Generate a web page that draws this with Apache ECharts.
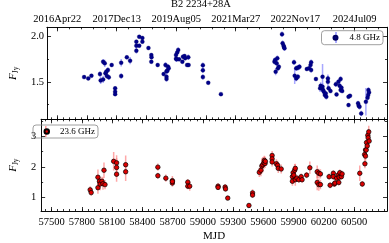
<!DOCTYPE html>
<html><head><meta charset="utf-8">
<script src="https://cdn.jsdelivr.net/npm/echarts@6/dist/echarts.min.js"></script>
<style>html,body{margin:0;padding:0;background:#fff}#c{width:389px;height:243px}</style>
</head><body><div id="c"></div>
<script>
// ---------- data: 4.8 GHz ----------
const mjd48 = [57771,57813,57845,57931,57938,57963,57963,57979,57986,57995,58001,58011,58020,58049,58084,58084,58084,58145,58145,58202,58235,58298,58298,58298,58327,58327,58359,58359,58420,58449,58449,58451,58513,58573,58592,58602,58602,58602,58611,58618,58624,58698,58698,58704,58710,58720,58729,58762,58768,58784,58790,58810,58822,58825,58969,58969,58969,59023,59151,59691,59697,59703,59713,59720,59726,59735,59767,59773,59783,59787,59792,59888,59895,59911,59911,59927,59927,59943,60017,60039,60055,60061,60061,60109,60151,60157,60166,60176,60176,60182,60189,60199,60208,60214,60230,60230,60237,60256,60310,60317,60336,60348,60358,60358,60367,60374,60438,60453,60438,60534,60540,60549,60566,60613,60630,60639,60645,60636];
const flux48 = [1.551,1.537,1.566,1.584,1.515,1.719,1.526,1.701,1.592,1.610,1.562,1.628,1.548,1.683,1.428,1.391,1.365,1.708,1.562,1.767,1.730,1.839,1.894,1.938,1.894,1.992,1.978,1.938,1.869,1.792,1.719,1.767,1.683,1.584,1.683,1.555,1.530,1.614,1.620,1.664,1.647,1.792,1.752,1.745,1.820,1.847,1.745,1.719,1.774,1.781,1.756,1.683,1.767,1.683,1.680,1.625,1.551,1.489,1.365,1.719,1.737,1.610,1.701,1.756,1.647,1.664,2.019,1.920,1.894,1.880,1.865,1.712,1.566,1.647,1.537,1.653,1.555,1.664,1.639,1.647,1.683,1.628,1.712,1.530,1.428,1.456,1.428,1.445,1.555,1.409,1.391,1.355,1.373,1.336,1.537,1.500,1.428,1.398,1.472,1.362,1.500,1.456,1.530,1.409,1.434,1.398,1.336,1.347,1.245,1.264,1.238,1.227,1.154,1.281,1.325,1.409,1.384,1.355];
const err48 = [0.015,0.012,0.015,0.03,0.04,0.03,0.04,0.04,0.04,0.03,0.03,0.03,0.03,0.02,0.02,0.02,0.02,0.04,0.03,0.02,0.04,0.03,0.03,0.02,0.02,0.02,0.02,0.02,0.015,0.02,0.02,0.02,0.02,0.02,0.03,0.03,0.03,0.03,0.03,0.03,0.03,0.03,0.03,0.03,0.03,0.03,0.02,0.02,0.02,0.02,0.02,0.02,0.03,0.02,0.03,0.03,0.03,0.02,0.015,0.03,0.03,0.04,0.03,0.03,0.03,0.03,0.03,0.03,0.03,0.03,0.03,0.03,0.09,0.03,0.03,0.03,0.03,0.03,0.02,0.02,0.03,0.03,0.03,0.02,0.04,0.04,0.04,0.04,0.14,0.03,0.03,0.03,0.03,0.03,0.03,0.08,0.03,0.02,0.03,0.02,0.03,0.03,0.03,0.03,0.03,0.02,0.02,0.02,0.02,0.03,0.03,0.03,0.03,0.15,0.03,0.03,0.03,0.03];

// ---------- data: 23.6 GHz ----------
const mjd236 = [57883,57893,57960,57960,57975,57982,58000,58010,58020,58030,58116,58145,58145,58145,58235,58235,58554,58554,58633,58698,58698,58698,58851,58851,58870,59151,59151,59221,59225,59247,59457,59493,59493,59560,59576,59585,59595,59605,59610,59617,59620,59687,59687,59687,59729,59742,59748,59777,59888,59895,59902,59911,59917,59888,59917,59933,59952,59975,59984,60029,60061,60134,60150,60166,60134,60150,60166,60252,60262,60294,60294,60304,60310,60326,60342,60352,60358,60374,60381,60348,60556,60581,60604,60607,60613,60613,60620,60623,60630,60636,60639,60645,60649];
const flux236 = [1.25,1.16,1.66,1.32,1.53,1.44,1.53,1.45,1.89,1.42,2.18,2.13,1.98,1.76,2.07,1.84,1.99,1.71,1.63,1.55,1.47,1.52,1.50,1.37,1.37,1.37,1.33,1.34,1.28,0.98,0.74,1.15,1.08,1.82,1.89,2.03,2.07,2.13,2.21,2.11,2.18,2.37,2.26,2.16,2.10,2.05,1.95,1.93,1.68,1.81,1.73,1.89,1.95,1.53,1.58,1.63,1.58,1.68,1.58,1.73,1.97,1.84,1.79,1.77,1.49,1.42,1.42,1.68,1.40,1.79,1.68,1.44,1.47,1.63,1.73,1.66,1.81,1.68,1.77,1.49,1.79,1.44,2.40,2.10,2.35,2.55,2.55,2.79,2.68,3.03,2.95,3.14,2.84];
const err236 = [0.12,0.10,0.25,0.20,0.15,0.20,0.15,0.20,0.25,0.15,0.30,0.25,0.30,0.25,0.30,0.30,0.12,0.10,0.12,0.15,0.12,0.10,0.10,0.10,0.15,0.10,0.08,0.10,0.08,0.06,0.08,0.12,0.10,0.15,0.20,0.25,0.25,0.20,0.15,0.15,0.15,0.15,0.15,0.15,0.15,0.15,0.15,0.15,0.15,0.15,0.15,0.20,0.15,0.15,0.20,0.10,0.10,0.10,0.10,0.10,0.20,0.20,0.15,0.15,0.25,0.20,0.15,0.10,0.10,0.10,0.10,0.10,0.10,0.10,0.10,0.10,0.10,0.10,0.10,0.10,0.25,0.10,0.15,0.15,0.15,0.15,0.15,0.15,0.15,0.15,0.15,0.20,0.15];

// ---------- ticks ----------
const mjdTicks = [57500,57800,58100,58400,58700,59000,59300,59600,59900,60200,60500];
const dateTickMjd = [57500,58100,58700,59300,59900,60500];
const dateTickLabels = ['2016Apr22','2017Dec13','2019Aug05','2021Mar27','2022Nov17','2024Jul09'];
const yTicksTop = [1.5, 2.0];
const yMinorTop = [1.25, 1.75];
const yTicksBot = [1, 2, 3];
const yMinorBot = [1.5, 2.5, 3.5];
const seriesNames = ['4.8 GHz', '23.6 GHz'];
const titleText = 'B2 2234+28A';
const xName = 'MJD';

const XMIN = 57397, XMAX = 60826;
const YTOP = [1.09, 2.095], YBOT = [0.56, 3.55];

const minorBottom = []; for (let v = 57440; v <= XMAX; v += 60) minorBottom.push(v);
const minorTop = []; for (let v = 57380; v <= XMAX; v += 120) if (v >= XMIN) minorTop.push(v);

const FONT = 'Liberation Serif';
const axisLineStyle = {color: '#000', width: 0.8};

function xAx(grid, pos, vals, len, label) {
  return {
    type: 'value', gridIndex: grid, position: pos, min: XMIN, max: XMAX,
    axisLine: {show: true, onZero: false, lineStyle: axisLineStyle},
    axisTick: {show: true, inside: true, length: len, customValues: vals, lineStyle: axisLineStyle},
    axisLabel: label ? Object.assign({customValues: vals, color: '#000', fontFamily: FONT, fontSize: 10.5}, label) : {show: false},
    splitLine: {show: false}
  };
}
function yAx(grid, pos, range, vals, len, label) {
  return {
    type: 'value', gridIndex: grid, position: pos, min: range[0], max: range[1],
    axisLine: {show: true, onZero: false, lineStyle: axisLineStyle},
    axisTick: {show: true, inside: true, length: len, customValues: vals, lineStyle: axisLineStyle},
    axisLabel: label ? Object.assign({customValues: vals, color: '#000', fontFamily: FONT, fontSize: 10.5}, label) : {show: false},
    splitLine: {show: false}
  };
}
const yName = {
  name: '{f|F}{s|Jy}', nameLocation: 'middle', nameGap: 17, nameRotate: 90,
  nameTextStyle: {fontFamily: FONT, color: '#000', rich: {
    f: {fontStyle: 'italic', fontSize: 11, fontFamily: FONT, color: '#000'},
    s: {fontSize: 7.5, fontFamily: FONT, color: '#000', verticalAlign: 'bottom', padding: [5, 0, 0, 0]}
  }}
};

const xAxes = [
  xAx(0, 'bottom', mjdTicks, 4, null),
  xAx(0, 'bottom', minorBottom, 2, null),
  xAx(0, 'top', dateTickMjd, 4, {margin: 3, formatter: v => dateTickLabels[dateTickMjd.indexOf(v)] || ''}),
  xAx(0, 'top', minorTop, 2, null),
  Object.assign(xAx(1, 'bottom', mjdTicks, 4, {margin: 6, formatter: v => String(v)}),
    {name: xName, nameLocation: 'middle', nameGap: 20, nameTextStyle: {fontFamily: FONT, fontSize: 11, color: '#000'}}),
  xAx(1, 'bottom', minorBottom, 2, null),
  xAx(1, 'top', mjdTicks, 4, null),
  xAx(1, 'top', minorBottom, 2, null)
];
const yAxes = [
  Object.assign(yAx(0, 'left', YTOP, yTicksTop, 4, {margin: 3, formatter: v => v.toFixed(1)}), yName),
  yAx(0, 'left', YTOP, yMinorTop, 2, null),
  yAx(0, 'right', YTOP, yTicksTop, 4, null),
  yAx(0, 'right', YTOP, yMinorTop, 2, null),
  Object.assign(yAx(1, 'left', YBOT, yTicksBot, 4, {margin: 5, formatter: v => String(Math.round(v))}), yName),
  yAx(1, 'left', YBOT, yMinorBot, 2, null),
  yAx(1, 'right', YBOT, yTicksBot, 4, null),
  yAx(1, 'right', YBOT, yMinorBot, 2, null)
];

function errSeries(mjd, flux, err, xi, yi, color) {
  return {
    type: 'custom', xAxisIndex: xi, yAxisIndex: yi, silent: true, clip: true, z: 2,
    data: mjd.map((m, i) => [m, flux[i], err[i]]),
    encode: {x: 0, y: 1},
    renderItem: (params, api) => {
      const x = api.value(0), y = api.value(1), e = api.value(2);
      const a = api.coord([x, y - e]), b = api.coord([x, y + e]);
      return {type: 'line', shape: {x1: a[0], y1: a[1], x2: b[0], y2: b[1]}, style: {stroke: color, lineWidth: 1.5}};
    }
  };
}

const chart = echarts.init(document.getElementById('c'), null, {renderer: 'canvas'});
chart.setOption({
  backgroundColor: '#fff',
  animation: false,
  title: {text: titleText, left: 171, top: -1, padding: 0,
    textStyle: {fontFamily: FONT, fontSize: 10.5, fontWeight: 'normal', color: '#000'}},
  grid: [
    {left: 29.3, right: 2, top: 27.3, height: 92},
    {left: 29.3, right: 2, top: 119.3, height: 94.4}
  ],
  xAxis: xAxes,
  yAxis: yAxes,
  legend: [
    {data: [seriesNames[0]], right: 6, top: 30.7, orient: 'vertical', icon: 'circle', itemWidth: 4, itemHeight: 4,
      padding: [2.5, 3, 2.5, 11], borderColor: '#888', borderWidth: 0.8, borderRadius: 3,
      textStyle: {fontFamily: FONT, fontSize: 9, color: '#000', padding: [0, 0, 0, 7]}},
    {data: [seriesNames[1]], left: 33, top: 125, orient: 'vertical', icon: 'circle', itemWidth: 4.5, itemHeight: 4.5,
      padding: [2, 3, 2, 10.5], borderColor: '#888', borderWidth: 0.8, borderRadius: 3,
      textStyle: {fontFamily: FONT, fontSize: 9, color: '#000', padding: [0, 0, 0, 6]}}
  ],
  graphic: [
    {type: 'line', shape: {x1: 336, y1: 32, x2: 336, y2: 43}, style: {stroke: 'rgba(110,110,255,0.75)', lineWidth: 1.5}, z: 0},
    {type: 'line', shape: {x1: 45.8, y1: 126, x2: 45.8, y2: 137}, style: {stroke: 'rgba(255,120,120,0.75)', lineWidth: 1.5}, z: 0}
  ],
  series: [
    errSeries(mjd48, flux48, err48, 0, 0, 'rgba(110,110,255,0.6)'),
    {name: seriesNames[0], type: 'scatter', xAxisIndex: 0, yAxisIndex: 0, z: 3,
      data: mjd48.map((m, i) => [m, flux48[i]]), symbol: 'circle', symbolSize: 4,
      itemStyle: {color: '#00008b', borderColor: '#000060', borderWidth: 0.3, opacity: 1}},
    errSeries(mjd236, flux236, err236, 4, 4, 'rgba(255,110,110,0.6)'),
    {name: seriesNames[1], type: 'scatter', xAxisIndex: 4, yAxisIndex: 4, z: 3,
      data: mjd236.map((m, i) => [m, flux236[i]]), symbol: 'circle', symbolSize: 4.5,
      itemStyle: {color: '#dd0000', borderColor: '#000', borderWidth: 0.7, opacity: 1}}
  ]
});
</script></body></html>
